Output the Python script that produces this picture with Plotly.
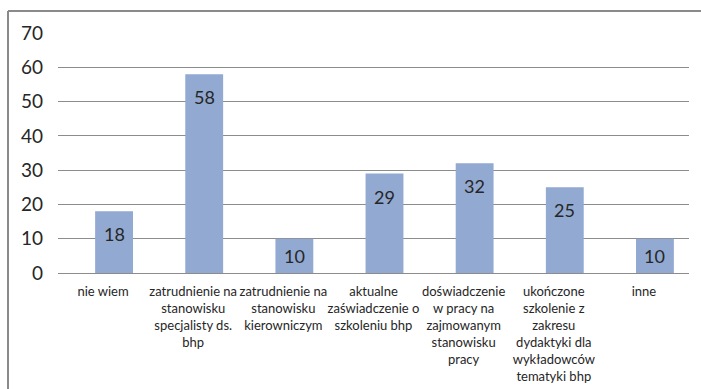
import plotly.graph_objects as go

categories = [
    "nie wiem",
    "zatrudnienie na<br>stanowisku<br>specjalisty ds.<br>bhp",
    "zatrudnienie na<br>stanowisku<br>kierowniczym",
    "aktualne<br>zaświadczenie o<br>szkoleniu bhp",
    "doświadczenie<br>w pracy na<br>zajmowanym<br>stanowisku<br>pracy",
    "ukończone<br>szkolenie z<br>zakresu<br>dydaktyki dla<br>wykładowców<br>tematyki bhp",
    "inne",
]
values = [18, 58, 10, 29, 32, 25, 10]
y_ticks = [0, 10, 20, 30, 40, 50, 60, 70]

W, H = 701, 389
ML, MR, MT, MB = 58, 12, 33, 116
plot_h = H - MT - MB
plot_w = W - ML - MR
px_per_unit = plot_h / 70.0
px_per_cat = plot_w / 7.0

FONT = "Lato, 'Open Sans', sans-serif"
TEXT_COLOR = "#262626"

BAR_W = 0.42
BAR_SHIFT_PX = 11  # bars sit slightly right of their category labels
bar_offset = -BAR_W / 2 + BAR_SHIFT_PX / px_per_cat

fig = go.Figure()
fig.add_trace(go.Bar(
    x=categories,
    y=values,
    marker=dict(color="#92A9D1", line=dict(width=0)),
    width=BAR_W,
    offset=bar_offset,
    hoverinfo="skip",
))

# value labels: ~23 px below the bar top, centred in short bars
annotations = []
for c, v in zip(categories, values):
    y_lab = max(v - 23 / px_per_unit, v / 2)
    annotations.append(dict(
        x=c, y=y_lab, xref="x", yref="y", text=str(v), showarrow=False,
        yanchor="middle", xanchor="center", xshift=BAR_SHIFT_PX,
        font=dict(family=FONT, size=18, color=TEXT_COLOR),
    ))

x_left = (8 - ML) / plot_w
y_top = 1 + (MT - 11) / plot_h
shapes = [
    dict(type="line", xref="paper", yref="paper", x0=x_left, x1=1.2,
         y0=y_top, y1=y_top, line=dict(color="#8a8a8a", width=2)),
    dict(type="line", xref="paper", yref="paper", x0=x_left, x1=x_left,
         y0=-1.0, y1=y_top, line=dict(color="#8a8a8a", width=2)),
]

fig.update_layout(
    width=W, height=H,
    margin=dict(l=ML, r=MR, t=MT, b=MB, pad=0),
    paper_bgcolor="white", plot_bgcolor="white",
    showlegend=False,
    annotations=annotations,
    shapes=shapes,
    font=dict(family=FONT, color=TEXT_COLOR),
)
fig.update_xaxes(
    range=[-0.5, 6.5], automargin=False,
    showgrid=False, showline=False, zeroline=False, ticks="",
    tickangle=0, ticklabelstandoff=9,
    tickfont=dict(family=FONT, size=13, color=TEXT_COLOR),
)
fig.update_yaxes(
    range=[0, 70], tickvals=y_ticks, automargin=False,
    showgrid=True, gridcolor="#8c8c8c",
    gridwidth=1, zeroline=True, zerolinecolor="#8c8c8c", zerolinewidth=1,
    showline=False, ticks="", ticklabelstandoff=14,
    tickfont=dict(family=FONT, size=19, color=TEXT_COLOR),
)

fig.write_html("out.html")
